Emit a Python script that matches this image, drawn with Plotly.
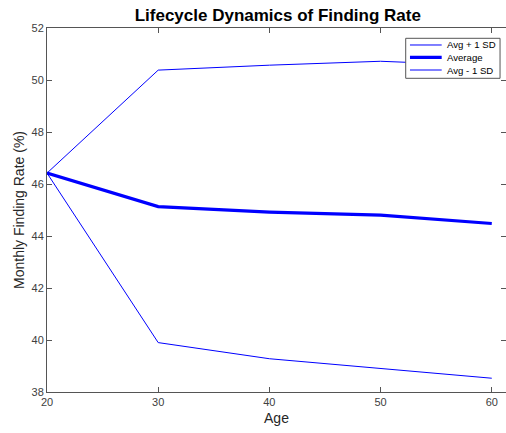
import plotly.graph_objects as go

ages = [20, 30, 40, 50, 60]
avg_plus = [46.42, 50.38, 50.57, 50.72, 50.55]
average = [46.42, 45.13, 44.92, 44.80, 44.48]
avg_minus = [46.42, 39.90, 39.28, 38.91, 38.53]
series_names = ["Avg + 1 SD", "Average", "Avg - 1 SD"]

fig = go.Figure()
fig.add_trace(go.Scatter(x=ages, y=avg_plus, mode="lines", name=series_names[0],
                         line=dict(color="#0000ff", width=1)))
fig.add_trace(go.Scatter(x=ages, y=average, mode="lines", name=series_names[1],
                         line=dict(color="#0000ff", width=3.2)))
fig.add_trace(go.Scatter(x=ages, y=avg_minus, mode="lines", name=series_names[2],
                         line=dict(color="#0000ff", width=1)))

font = "Liberation Sans, Arial, sans-serif"

# compact MATLAB-style legend box drawn in paper coordinates
lx0, lx1, ly0, ly1 = 0.7815, 0.987, 0.8618, 0.9717
row_y = [0.9533, 0.9195, 0.8846]
widths = [1, 3.2, 1]
shapes = [dict(type="rect", xref="paper", yref="paper", x0=lx0, x1=lx1, y0=ly0, y1=ly1,
               line=dict(color="#555555", width=1), fillcolor="white", layer="above")]
annotations = []
for nm, yy, w in zip(series_names, row_y, widths):
    shapes.append(dict(type="line", xref="paper", yref="paper", x0=0.7908, x1=0.8599,
                       y0=yy, y1=yy, line=dict(color="#0000ff", width=w), layer="above"))
    annotations.append(dict(text=nm, xref="paper", yref="paper", x=0.8671, y=yy,
                            xanchor="left", yanchor="middle", showarrow=False,
                            font=dict(size=9.6, color="black", family=font)))

fig.update_layout(
    width=506, height=433,
    margin=dict(l=47, r=0, t=28, b=41),
    paper_bgcolor="white", plot_bgcolor="white",
    font=dict(family=font, color="#262626"),
    title=dict(text="<b>Lifecycle Dynamics of Finding Rate</b>", x=0.549, xanchor="center",
               y=0.965, yanchor="middle", font=dict(size=17, color="black", family=font)),
    showlegend=False,
    shapes=shapes,
    annotations=annotations,
)
fig.update_xaxes(range=[20, 61.28], tickvals=[20, 30, 40, 50, 60], ticks="inside",
                 ticklen=5, tickcolor="#555555", showline=True, linecolor="#555555",
                 linewidth=1, mirror="ticks", showgrid=False, zeroline=False, automargin=False,
                 tickfont=dict(size=11, color="#404040"),
                 title=dict(text="Age", font=dict(size=14, color="#262626"), standoff=5))
fig.update_yaxes(range=[38, 52], tickvals=list(range(38, 53, 2)), ticks="inside",
                 ticklen=5, tickcolor="#555555", showline=True, linecolor="#555555",
                 linewidth=1, mirror="ticks", showgrid=False, zeroline=False, automargin=False,
                 tickfont=dict(size=11, color="#404040"),
                 title=dict(text="Monthly Finding Rate (%)", font=dict(size=14, color="#262626"), standoff=3))

fig.write_html("out.html", config={"displayModeBar": False},
               post_script="document.body.style.margin='0';document.body.style.overflow='hidden';")
